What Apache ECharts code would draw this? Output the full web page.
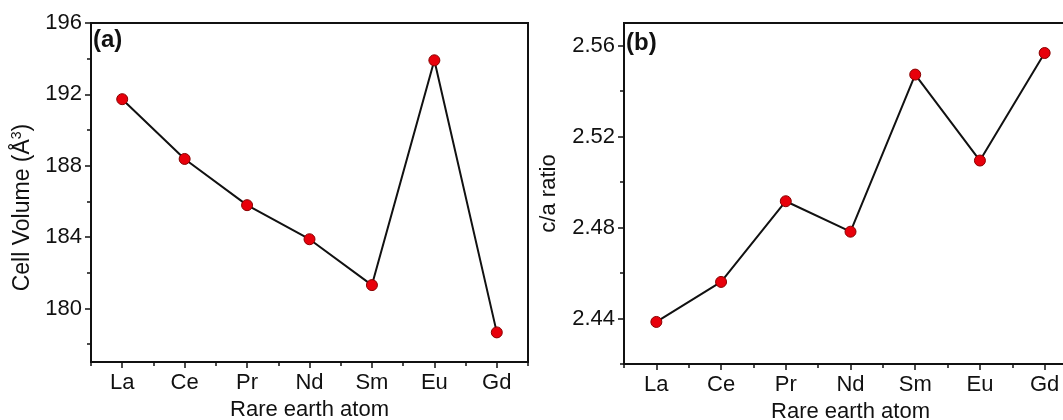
<!DOCTYPE html>
<html>
<head>
<meta charset="utf-8">
<script src="https://cdn.jsdelivr.net/npm/echarts@6/dist/echarts.min.js"></script>
<style>
  html, body { margin: 0; padding: 0; background: #fff; }
  #chart { width: 1063px; height: 420px; }
</style>
</head>
<body>
<div id="chart"></div>
<script>
// Rare earth series and lattice data
const elements = ['La', 'Ce', 'Pr', 'Nd', 'Sm', 'Eu', 'Gd'];
const cellVolume = [191.73, 188.38, 185.79, 183.88, 181.31, 193.91, 178.66];
const caRatio = [2.4385, 2.4561, 2.4916, 2.4782, 2.5473, 2.5095, 2.5568];

// Axis ticks
const volumeMajorTicks = [180, 184, 188, 192, 196];
const volumeMinorTicks = [178, 182, 186, 190, 194];
const ratioMajorTicks = [2.44, 2.48, 2.52, 2.56];
const ratioMinorTicks = [2.42, 2.46, 2.50, 2.54];
const elementTicks = elements.map((_, i) => i + 1);
const boundaryTicks = elements.concat(['']).map((_, i) => i + 0.5);

const FONT = 'Liberation Sans, Arial, sans-serif';
const INK = '#111';
const FS = 22;

const xy = (vals) => vals.map((v, i) => [i + 1, v]);

function xMajor(gridIndex) {
  return {
    type: 'value', gridIndex, position: 'bottom', min: 0.5, max: 7.5,
    name: 'Rare earth atom', nameLocation: 'middle', nameGap: 36,
    nameTextStyle: { fontFamily: FONT, fontSize: FS, color: INK },
    axisLine: { show: true, lineStyle: { color: INK, width: 2 } },
    axisTick: { show: true, customValues: elementTicks, length: 6, lineStyle: { color: INK, width: 1.5 } },
    axisLabel: {
      customValues: elementTicks, margin: 10,
      fontFamily: FONT, fontSize: FS, color: INK,
      formatter: (v) => elements[Math.round(v) - 1] || ''
    },
    splitLine: { show: false }
  };
}
function xMinor(gridIndex) {
  return {
    type: 'value', gridIndex, position: 'bottom', min: 0.5, max: 7.5,
    axisLine: { show: false },
    axisTick: { show: true, customValues: boundaryTicks, length: 4, lineStyle: { color: INK, width: 1.5 } },
    axisLabel: { show: false },
    splitLine: { show: false }
  };
}
function yMajor(gridIndex, min, max, ticks, name, nameGap, digits, namePad) {
  return {
    type: 'value', gridIndex, position: 'left', min, max,
    name, nameLocation: 'middle', nameGap,
    nameTextStyle: {
      fontFamily: FONT, fontSize: FS, color: INK, padding: namePad,
      rich: {
        a: { fontFamily: FONT, fontSize: FS + 1, color: INK },
        s: { fontFamily: FONT, fontSize: 14, color: INK, verticalAlign: 'top', padding: [0, 0, 12, 0] }
      }
    },
    axisLine: { show: true, lineStyle: { color: INK, width: 2 } },
    axisTick: { show: true, customValues: ticks, length: 6, lineStyle: { color: INK, width: 1.5 } },
    axisLabel: {
      customValues: ticks, margin: 9,
      fontFamily: FONT, fontSize: FS, color: INK,
      formatter: (v) => v.toFixed(digits)
    },
    splitLine: { show: false }
  };
}
function yMinor(gridIndex, min, max, ticks) {
  return {
    type: 'value', gridIndex, position: 'left', min, max,
    axisLine: { show: false },
    axisTick: { show: true, customValues: ticks, length: 4, lineStyle: { color: INK, width: 1.5 } },
    axisLabel: { show: false },
    splitLine: { show: false }
  };
}
function lineSeries(xIdx, yIdx, data) {
  return {
    type: 'line', xAxisIndex: xIdx, yAxisIndex: yIdx, data: xy(data),
    symbol: 'circle', symbolSize: 11,
    lineStyle: { color: INK, width: 2 },
    itemStyle: { color: '#e8000b', borderColor: '#8a0000', borderWidth: 1 },
    z: 3
  };
}

const chart = echarts.init(document.getElementById('chart'), null, { renderer: 'canvas' });
chart.setOption({
  animation: false,
  backgroundColor: '#fff',
  grid: [
    { left: 91, top: 23, width: 437, height: 339, outerBoundsMode: 'none', containLabel: false,
      show: true, borderColor: INK, borderWidth: 2, backgroundColor: 'transparent' },
    { left: 624, top: 23, width: 453, height: 341, outerBoundsMode: 'none', containLabel: false,
      show: true, borderColor: INK, borderWidth: 2, backgroundColor: 'transparent' }
  ],
  xAxis: [xMajor(0), xMinor(0), xMajor(1), xMinor(1)],
  yAxis: [
    yMajor(0, 177, 196, volumeMajorTicks, '{a|Cell Volume (Å}{s|3}{a|)}', 55, 0, [0, 30, 0, 0]),
    yMinor(0, 177, 196, volumeMinorTicks),
    yMajor(1, 2.42, 2.57, ratioMajorTicks, 'c/a ratio', 64, 2, 0),
    yMinor(1, 2.42, 2.57, ratioMinorTicks)
  ],
  series: [
    lineSeries(0, 0, cellVolume),
    lineSeries(2, 2, caRatio)
  ],
  graphic: [
    { type: 'text', left: 93, top: 28, style: { text: '(a)', font: 'bold 24px ' + FONT, fill: INK } },
    { type: 'text', left: 626, top: 31, style: { text: '(b)', font: 'bold 24px ' + FONT, fill: INK } }
  ]
});
</script>
</body>
</html>
